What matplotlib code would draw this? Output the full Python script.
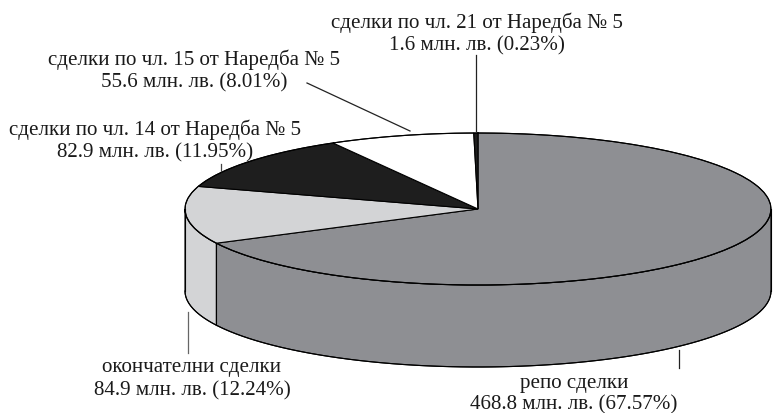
import numpy as np
import matplotlib
matplotlib.use('Agg')
import matplotlib.pyplot as plt
from matplotlib.patches import Polygon

plt.rcParams['font.family'] = ['Liberation Serif', 'DejaVu Serif']

# ---- data ----
labels = ['репо сделки', 'окончателни сделки',
          'сделки по чл. 14 от Наредба № 5',
          'сделки по чл. 15 от Наредба № 5',
          'сделки по чл. 21 от Наредба № 5']
values = [468.8, 84.9, 82.9, 55.6, 1.6]          # млн. лв.
shares = [67.57, 12.24, 11.95, 8.01, 0.23]       # %
colors = ['#8e8f93', '#d3d4d6', '#1e1e1e', '#ffffff', '#1e1e1e']

# ---- layout (pixel coords, y down) ----
cx, cy, a, b, depth = 478, 209, 293, 76, 82
# (x centre, baseline of line 1, baseline of line 2)
label_pos = [(574, 388, 409), (192, 372, 395), (155, 135, 157),
             (194, 65, 87), (477, 28, 50)]
leaders = [((679, 350), (679, 368)), ((188, 312), (188, 353)),
           ((221, 164), (221, 171)), ((307, 83), (410, 131)),
           ((476, 55), (476, 131))]
leader_cols = ['#222222', '#666666', '#444444', '#222222', '#222222']

fig = plt.figure(figsize=(7.84, 4.13), dpi=100)
ax = fig.add_axes([0, 0, 1, 1])
ax.set_xlim(0, 784)
ax.set_ylim(413, 0)
ax.axis('off')


def pt(t, dz=0.0):
    r = np.radians(t)
    return cx + a * np.sin(r), cy - b * np.cos(r) + dz


def arc(t1, t2, dz=0.0, n=80):
    ts = np.linspace(t1, t2, n)
    xs, ys = pt(ts, dz)
    return np.column_stack([xs, ys])


total = sum(values)
bounds = np.concatenate([[0], np.cumsum(values) / total * 360])

# side walls (front half only: 90..270 deg clockwise from top)
for i in range(len(values)):
    t1, t2 = max(bounds[i], 90), min(bounds[i + 1], 270)
    if t2 <= t1:
        continue
    top = arc(t1, t2)
    bot = arc(t2, t1, depth)
    ax.add_patch(Polygon(np.vstack([top, bot]), closed=True,
                         facecolor=colors[i], edgecolor='black', lw=0.8, zorder=1))

# top faces
for i in range(len(values)):
    pts = np.vstack([[cx, cy], arc(bounds[i], bounds[i + 1])])
    ax.add_patch(Polygon(pts, closed=True, facecolor=colors[i],
                         edgecolor='black', lw=0.8, joinstyle='miter', zorder=2))

# outer silhouette lines
ax.plot(*arc(0, 360).T, color='black', lw=0.8, zorder=3)
ax.plot(*arc(90, 270, depth).T, color='black', lw=0.8, zorder=3)
for t in [90, 270] + [x for x in bounds[1:-1] if 90 < x < 270]:
    x0, y0 = pt(t)
    ax.plot([x0, x0], [y0, y0 + depth], color='black', lw=0.8, zorder=3)

# labels and leader lines
for i in range(len(values)):
    x, y1, y2 = label_pos[i]
    ax.text(x, y1, labels[i], ha='center', va='baseline',
            fontsize=15.1, color='#1a1a1a', zorder=5)
    ax.text(x, y2, f'{values[i]:.1f} млн. лв. ({shares[i]:.2f}%)', ha='center',
            va='baseline', fontsize=15.1, color='#1a1a1a', zorder=5)
    (xa, ya), (xb, yb) = leaders[i]
    ax.plot([xa, xb], [ya, yb], color=leader_cols[i], lw=0.9, zorder=4)

fig.savefig('out.png', dpi=100)
